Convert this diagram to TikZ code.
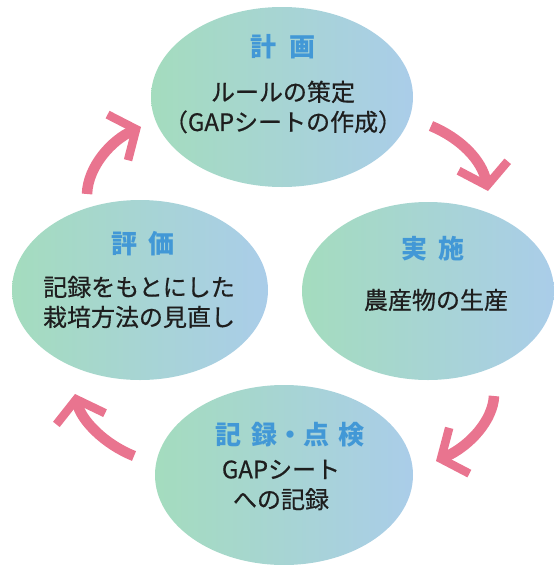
\documentclass[tikz,border=0pt]{standalone}
\usepackage{fontspec}
\setmainfont{Noto Sans CJK JP}
\newfontfamily\medfont{Noto Sans CJK JP}[FakeBold=0.6]
\usetikzlibrary{shapes.geometric,arrows.meta}
\definecolor{gL}{RGB}{164,220,190}
\definecolor{gR}{RGB}{170,205,233}
\definecolor{ttl}{RGB}{66,152,214}
\definecolor{txt}{RGB}{30,30,30}
\definecolor{pk}{RGB}{233,116,143}
\begin{document}
\begin{tikzpicture}[x=1pt,y=-1pt,
  blob/.style={ellipse, inner sep=0, left color=gL, right color=gR, draw=none},
  ttlstyle/.style={inner sep=0, text=ttl, font=\fontsize{26}{30}\selectfont\bfseries},
  body/.style={inner sep=0, text=txt, align=center, font=\fontsize{24}{30}\selectfont\medfont},
  cyc/.style={draw=pk, line width=10.5pt, -{Straight Barb[length=20pt,width=50pt,line width=8.5pt]}}]
\useasboundingbox (0,0) rectangle (554,565);
% ellipses
\node[blob, minimum width=262pt, minimum height=180pt] (plan) at (282,97) {};
\node[blob, minimum width=252pt, minimum height=178pt] (do) at (428,291) {};
\node[blob, minimum width=256pt, minimum height=180pt] (eval) at (140,290) {};
\node[blob, minimum width=258pt, minimum height=180pt] (rec) at (284,475) {};
% titles
\node[ttlstyle] (planT) at (283,47) {計\hspace{0.5em}画};
\node[ttlstyle] (doT) at (433,249) {実\hspace{0.4em}施};
\node[ttlstyle] (evalT) at (143,244) {評\hspace{0.4em}価};
\node[ttlstyle] (recT) at (290,435) {記\hspace{0.35em}録・点\hspace{0.35em}検};
% bodies
\node[body] (planB) at (283,107) {ルールの策定\\（GAPシートの作成）};
\node[body] (doB) at (436,300) {農産物の生産};
\node[body] (evalB) at (139,302) {記録をもとにした\\栽培方法の見直し};
\node[body] (recB) at (281,485) {GAPシート\\への記録};
% arrows
\coordinate (a1s) at (431,126); \coordinate (a1e) at (488,191);
\coordinate (a2s) at (494,396); \coordinate (a2e) at (436,461);
\coordinate (a3s) at (134,456); \coordinate (a3e) at (75,394);
\coordinate (a4s) at (87,194);  \coordinate (a4e) at (141,127);
\draw[cyc] (a1s) .. controls (460,138) and (482,160) .. (a1e);
\draw[cyc] (a2s) .. controls (493,420) and (470,446) .. (a2e);
\draw[cyc] (a3s) .. controls (104,444) and (81,420) .. (a3e);
\draw[cyc] (a4s) .. controls (88,166) and (112,140) .. (a4e);
\end{tikzpicture}
\end{document}
